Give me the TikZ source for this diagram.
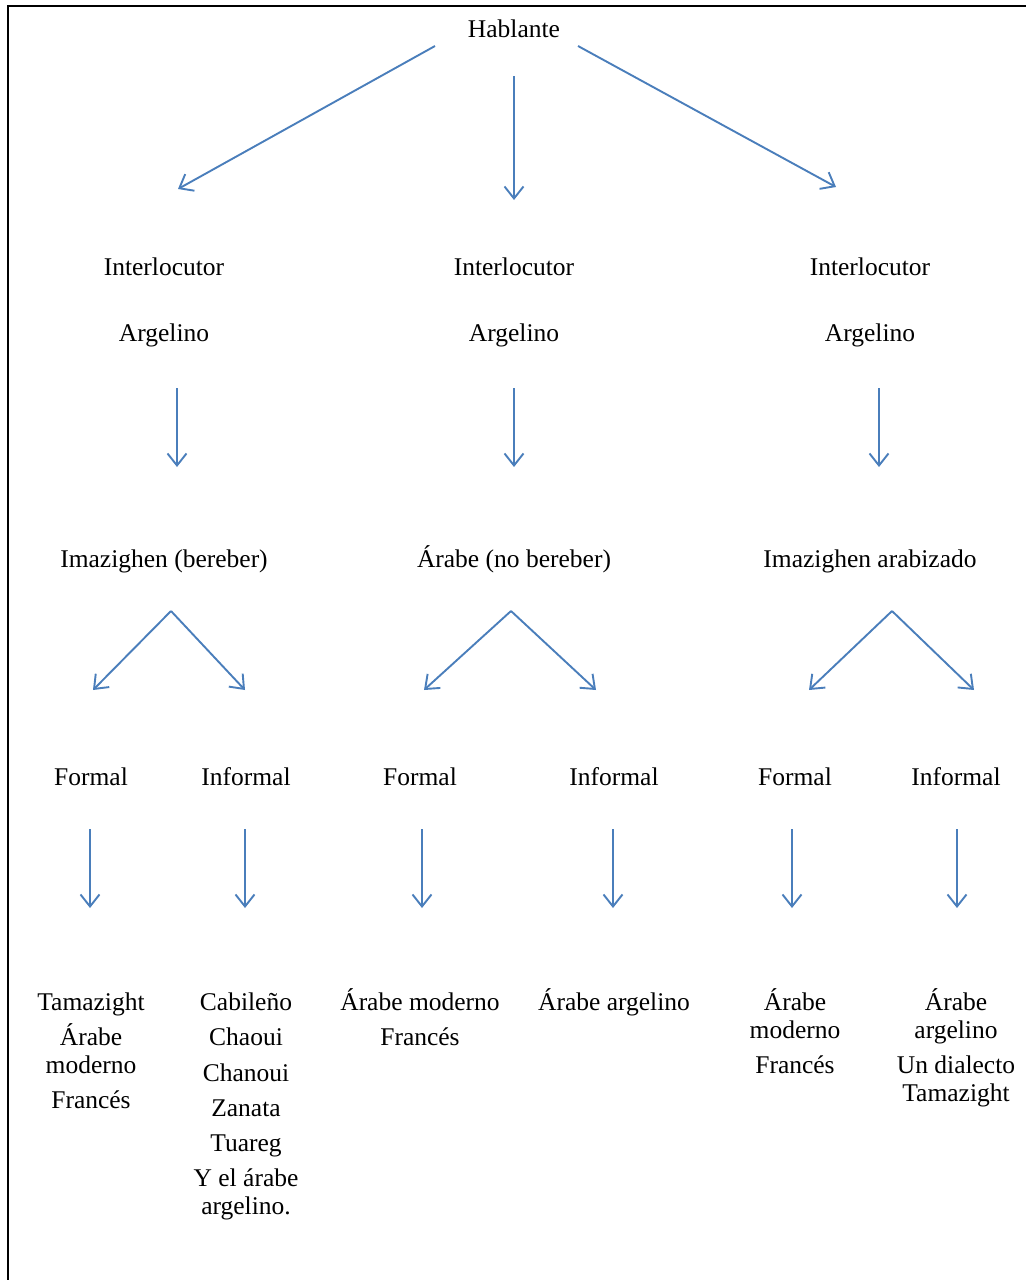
\documentclass[tikz,border=0pt]{standalone}
\usepackage{fontspec}
\setmainfont{Liberation Serif}
\usetikzlibrary{arrows.meta}
\definecolor{arrowblue}{HTML}{4A7EBB}
\tikzset{
  lbl/.style={anchor=base, align=center, inner sep=0pt, font=\fontsize{25.5}{28}\selectfont},
  arr/.style={draw=arrowblue, line width=1.9pt, -{Straight Barb[length=12pt,width=19pt]}},
}
\begin{document}
\begin{tikzpicture}[x=1pt,y=-1pt]
\useasboundingbox (0,0) rectangle (1026,1280);
\draw[line width=2pt] (8,1280) -- (8,6) -- (1026,6);
% top level
\node[lbl] (hab) at (514,37) {Hablante};
\node[lbl] (int1) at (164,275) {Interlocutor};
\node[lbl] (int2) at (514,275) {Interlocutor};
\node[lbl] (int3) at (870,275) {Interlocutor};
\node[lbl] (arg1) at (164,341) {Argelino};
\node[lbl] (arg2) at (514,341) {Argelino};
\node[lbl] (arg3) at (870,341) {Argelino};
\coordinate (hab-l) at (435,46);
\coordinate (hab-m) at (514,76);
\coordinate (hab-r) at (578,46);
\coordinate (int1-t) at (178,189);
\coordinate (int2-t) at (514,200);
\coordinate (int3-t) at (836,187);
\draw[arr] (hab-l) -- (int1-t);
\draw[arr] (hab-m) -- (int2-t);
\draw[arr] (hab-r) -- (int3-t);
% lenguas
\node[lbl] (imz) at (164,567) {Imazighen (bereber)};
\node[lbl] (ara) at (514,567) {Árabe (no bereber)};
\node[lbl] (imza) at (870,567) {Imazighen arabizado};
\coordinate (arg1-b) at (177,388);
\coordinate (arg2-b) at (514,388);
\coordinate (arg3-b) at (879,388);
\coordinate (imz-t) at (177,467);
\coordinate (ara-t) at (514,467);
\coordinate (imza-t) at (879,467);
\draw[arr] (arg1-b) -- (imz-t);
\draw[arr] (arg2-b) -- (ara-t);
\draw[arr] (arg3-b) -- (imza-t);
% registro
\node[lbl] (for1) at (91,785) {Formal};
\node[lbl] (inf1) at (246,785) {Informal};
\node[lbl] (for2) at (420,785) {Formal};
\node[lbl] (inf2) at (614,785) {Informal};
\node[lbl] (for3) at (795,785) {Formal};
\node[lbl] (inf3) at (956,785) {Informal};
\coordinate (imz-b) at (171,611);
\coordinate (ara-b) at (511,611);
\coordinate (imza-b) at (892,611);
\coordinate (for1-t) at (93,690);
\coordinate (inf1-t) at (245,690);
\coordinate (for2-t) at (424,690);
\coordinate (inf2-t) at (596,690);
\coordinate (for3-t) at (809,690);
\coordinate (inf3-t) at (974,690);
\draw[arr] (imz-b) -- (for1-t);
\draw[arr] (imz-b) -- (inf1-t);
\draw[arr] (ara-b) -- (for2-t);
\draw[arr] (ara-b) -- (inf2-t);
\draw[arr] (imza-b) -- (for3-t);
\draw[arr] (imza-b) -- (inf3-t);
% lenguas usadas (base = last line)
\node[lbl] (len1) at (91,1108) {Tamazight\\[7pt]Árabe\\moderno\\[7pt]Francés};
\node[lbl] (len2) at (246,1214) {Cabileño\\[7pt]Chaoui\\[8pt]Chanoui\\[7pt]Zanata\\[7pt]Tuareg\\[7pt]Y el árabe\\argelino.};
\node[lbl] (len3) at (420,1045) {Árabe moderno\\[7pt]Francés};
\node[lbl] (len4) at (614,1010) {Árabe argelino};
\node[lbl] (len5) at (795,1073) {Árabe\\moderno\\[7pt]Francés};
\node[lbl] (len6) at (956,1101) {Árabe\\argelino\\[7pt]Un dialecto\\Tamazight};
\coordinate (for1-b) at (90,829);
\coordinate (inf1-b) at (245,829);
\coordinate (for2-b) at (422,829);
\coordinate (inf2-b) at (613,829);
\coordinate (for3-b) at (792,829);
\coordinate (inf3-b) at (957,829);
\coordinate (len1-t) at (90,908);
\coordinate (len2-t) at (245,908);
\coordinate (len3-t) at (422,908);
\coordinate (len4-t) at (613,908);
\coordinate (len5-t) at (792,908);
\coordinate (len6-t) at (957,908);
\draw[arr] (for1-b) -- (len1-t);
\draw[arr] (inf1-b) -- (len2-t);
\draw[arr] (for2-b) -- (len3-t);
\draw[arr] (inf2-b) -- (len4-t);
\draw[arr] (for3-b) -- (len5-t);
\draw[arr] (inf3-b) -- (len6-t);
\end{tikzpicture}
\end{document}
